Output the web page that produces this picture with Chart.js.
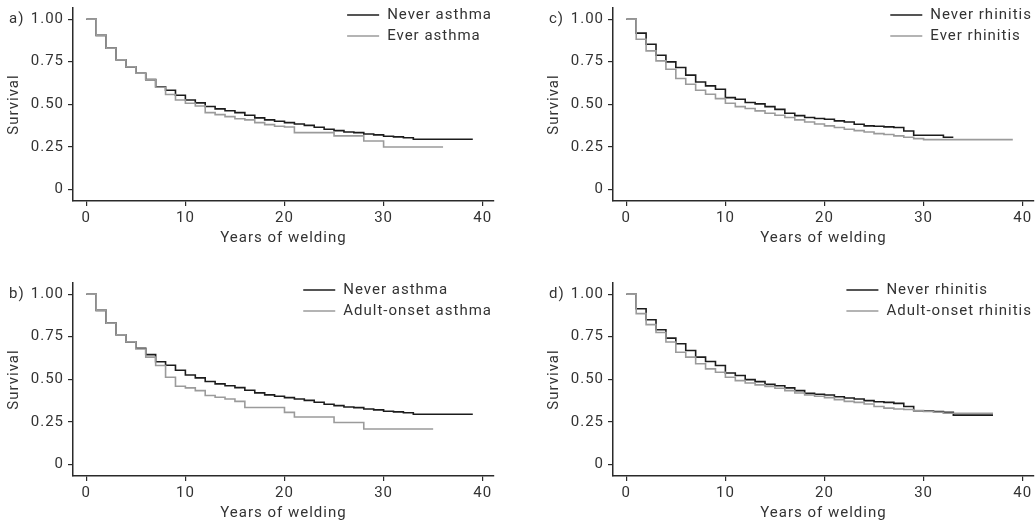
<!DOCTYPE html>
<html>
<head>
<meta charset="utf-8">
<script src="https://cdn.jsdelivr.net/npm/chart.js@4.4.1/dist/chart.umd.min.js"></script>
<style>
  html, body { margin: 0; padding: 0; background: #fff; }
  #wrap { position: relative; width: 1036px; height: 528px; overflow: hidden; }
  canvas { position: absolute; }
</style>
</head>
<body>
<div id="wrap">
  <canvas id="panel-a" width="518" height="252" style="left:0px;top:0px"></canvas>
  <canvas id="panel-b" width="518" height="252" style="left:0px;top:275px"></canvas>
  <canvas id="panel-c" width="518" height="252" style="left:540px;top:0px"></canvas>
  <canvas id="panel-d" width="518" height="252" style="left:540px;top:275px"></canvas>
</div>
<script>
// axes
const xTicks = [0, 10, 20, 30, 40];
const yTicks = [0, 0.25, 0.5, 0.75, 1];
const yTickLabels = ['0', '0.25', '0.50', '0.75', '1.00'];
const xTitle = 'Years of welding';
const yTitle = 'Survival';

// a) + b) never asthma
const neverAsthmaYears = [0, 1, 2, 3, 4, 5, 6, 7, 8, 9, 10, 11, 12, 13, 14, 15, 16, 17, 18, 19, 20,
  21, 22, 23, 24, 25, 26, 27, 28, 29, 30, 31, 32, 33, 39];
const neverAsthmaSurv = [1.000, 0.905, 0.830, 0.762, 0.720, 0.682, 0.645, 0.603, 0.582, 0.553, 0.525,
  0.508, 0.487, 0.473, 0.462, 0.451, 0.435, 0.420, 0.408, 0.400, 0.392,
  0.384, 0.376, 0.365, 0.353, 0.345, 0.337, 0.333, 0.325, 0.320, 0.312, 0.308, 0.303, 0.294, 0.294];

// a) ever asthma
const everAsthmaYears = [0, 1, 2, 3, 4, 5, 6, 7, 8, 9, 10, 11, 12, 13, 14, 15, 16, 17, 18, 19, 20,
  21, 25, 28, 30, 36];
const everAsthmaSurv = [1.000, 0.905, 0.830, 0.762, 0.720, 0.682, 0.645, 0.600, 0.557, 0.525, 0.506,
  0.490, 0.451, 0.439, 0.427, 0.415, 0.408, 0.392, 0.380, 0.371, 0.366,
  0.333, 0.314, 0.284, 0.249, 0.249];

// b) adult-onset asthma
const adultAsthmaYears = [0, 1, 2, 3, 4, 5, 6, 7, 8, 9, 10, 11, 12, 13, 14, 15, 16, 20, 21, 25, 28, 35];
const adultAsthmaSurv = [1.000, 0.905, 0.830, 0.762, 0.720, 0.678, 0.630, 0.581, 0.512, 0.459, 0.449,
  0.433, 0.404, 0.394, 0.384, 0.370, 0.334, 0.305, 0.278, 0.246, 0.207, 0.207];

// c) never / ever rhinitis
const neverRhinitisCYears = [0, 1, 2, 3, 4, 5, 6, 7, 8, 9, 10, 11, 12, 13, 14, 15, 16, 17, 18, 19, 20,
  21, 22, 23, 24, 25, 26, 27, 28, 29, 30, 31, 32, 33];
const neverRhinitisCSurv = [1.000, 0.918, 0.853, 0.788, 0.749, 0.716, 0.671, 0.631, 0.608, 0.588, 0.539,
  0.529, 0.510, 0.502, 0.486, 0.470, 0.447, 0.433, 0.422, 0.416, 0.412,
  0.402, 0.396, 0.382, 0.373, 0.371, 0.367, 0.363, 0.343, 0.318, 0.318, 0.318, 0.306, 0.306];

const everRhinitisYears = [0, 1, 2, 3, 4, 5, 6, 7, 8, 9, 10, 11, 12, 13, 14, 15, 16, 17, 18, 19, 20,
  21, 22, 23, 24, 25, 26, 27, 28, 29, 30, 39];
const everRhinitisSurv = [1.000, 0.882, 0.814, 0.755, 0.706, 0.651, 0.618, 0.582, 0.559, 0.533, 0.506,
  0.486, 0.475, 0.461, 0.447, 0.435, 0.422, 0.408, 0.396, 0.384, 0.373,
  0.363, 0.353, 0.345, 0.337, 0.327, 0.322, 0.314, 0.306, 0.298, 0.292, 0.292];

// d) never / adult-onset rhinitis
const neverRhinitisDYears = [0, 1, 2, 3, 4, 5, 6, 7, 8, 9, 10, 11, 12, 13, 14, 15, 16, 17, 18, 19, 20,
  21, 22, 23, 24, 25, 26, 27, 28, 29, 30, 31, 32, 33, 37];
const neverRhinitisDSurv = [1.000, 0.915, 0.850, 0.791, 0.742, 0.709, 0.669, 0.630, 0.604, 0.581, 0.537,
  0.522, 0.498, 0.486, 0.470, 0.462, 0.449, 0.433, 0.417, 0.412, 0.407,
  0.397, 0.390, 0.384, 0.374, 0.368, 0.364, 0.358, 0.340, 0.315, 0.313, 0.310, 0.305, 0.289, 0.289];

const adultRhinitisYears = [0, 1, 2, 3, 4, 5, 6, 7, 8, 9, 10, 11, 12, 13, 14, 15, 16, 17, 18, 19, 20,
  21, 22, 23, 24, 25, 26, 27, 28, 29, 30, 31, 32, 37];
const adultRhinitisSurv = [1.000, 0.886, 0.821, 0.775, 0.719, 0.659, 0.630, 0.591, 0.561, 0.541, 0.512,
  0.492, 0.478, 0.467, 0.457, 0.447, 0.433, 0.419, 0.407, 0.400, 0.392,
  0.380, 0.370, 0.364, 0.354, 0.340, 0.330, 0.325, 0.322, 0.316, 0.310, 0.306, 0.300, 0.300];

const panels = [
  { id: 'panel-a', tag: 'a)',
    black: ['Never asthma', neverAsthmaYears, neverAsthmaSurv],
    grey: ['Ever asthma', everAsthmaYears, everAsthmaSurv] },
  { id: 'panel-b', tag: 'b)',
    black: ['Never asthma', neverAsthmaYears, neverAsthmaSurv],
    grey: ['Adult-onset asthma', adultAsthmaYears, adultAsthmaSurv] },
  { id: 'panel-c', tag: 'c)',
    black: ['Never rhinitis', neverRhinitisCYears, neverRhinitisCSurv],
    grey: ['Ever rhinitis', everRhinitisYears, everRhinitisSurv] },
  { id: 'panel-d', tag: 'd)',
    black: ['Never rhinitis', neverRhinitisDYears, neverRhinitisDSurv],
    grey: ['Adult-onset rhinitis', adultRhinitisYears, adultRhinitisSurv] }
];

const BLACK = '#1c1c1c';
const GREY = '#9b9b9b';
const AXIS = '#2a2a2a';
const TEXT = '#333';
const FONT = { family: 'Roboto', size: 15 };

Chart.defaults.font.family = FONT.family;
Chart.defaults.font.size = FONT.size;
Chart.defaults.color = TEXT;

function toPoints(years, surv) {
    return years.map((x, i) => ({ x: x, y: surv[i] }));
}

// panel tag + legend drawn inside the plot, like the original
const decorations = {
    id: 'decorations',
    beforeDraw(chart) {
        chart.ctx.letterSpacing = '1px';
    },
    afterDraw(chart, args, opts) {
        const ctx = chart.ctx;
        const area = chart.chartArea;
        ctx.save();
        ctx.letterSpacing = '1px';
        ctx.font = FONT.size + 'px ' + FONT.family;
        ctx.fillStyle = TEXT;
        ctx.textBaseline = 'middle';
        ctx.textAlign = 'left';
        ctx.fillText(opts.tag, 9, chart.scales.y.getPixelForValue(1));

        const entries = chart.data.datasets;
        const maxW = Math.max(...entries.map(d => ctx.measureText(d.label).width));
        const textX = area.right - 2 - maxW;
        entries.forEach((d, i) => {
            const y = area.top + 7 + i * 21;
            ctx.strokeStyle = d.borderColor;
            ctx.lineWidth = 1.6;
            ctx.beginPath();
            ctx.moveTo(textX - 40, y);
            ctx.lineTo(textX - 8, y);
            ctx.stroke();
            ctx.fillStyle = TEXT;
            ctx.fillText(d.label, textX, y);
        });
        ctx.restore();
    }
};

panels.forEach(p => {
    const ctx = document.getElementById(p.id).getContext('2d');
    new Chart(ctx, {
        type: 'line',
        data: {
            datasets: [
                {
                    label: p.black[0],
                    data: toPoints(p.black[1], p.black[2]),
                    borderColor: BLACK,
                    borderWidth: 1.6,
                    stepped: true,
                    pointRadius: 0,
                    fill: false,
                    order: 2
                },
                {
                    label: p.grey[0],
                    data: toPoints(p.grey[1], p.grey[2]),
                    borderColor: GREY,
                    borderWidth: 1.6,
                    stepped: true,
                    pointRadius: 0,
                    fill: false,
                    order: 1
                }
            ]
        },
        options: {
            responsive: false,
            animation: false,
            devicePixelRatio: 1,
            layout: { padding: { left: 0, top: 8, right: 24, bottom: 0 } },
            plugins: {
                legend: { display: false },
                tooltip: { enabled: false },
                decorations: { tag: p.tag }
            },
            scales: {
                x: {
                    type: 'linear',
                    min: -1.34,
                    max: 41.14,
                    afterBuildTicks: s => { s.ticks = xTicks.map(v => ({ value: v })); },
                    afterFit: s => {
                        s.height = 51;
                        s.paddingLeft = 0; s.paddingRight = 0;
                    },
                    ticks: { padding: 3, color: TEXT, maxRotation: 0 },
                    grid: { drawOnChartArea: false, drawTicks: true, tickLength: 5, color: AXIS, lineWidth: 1.2 },
                    border: { display: true, color: AXIS, width: 1.5 },
                    title: { display: true, text: xTitle, color: TEXT, padding: { top: 0, bottom: 5 } }
                },
                y: {
                    type: 'linear',
                    min: -0.069,
                    max: 1.066,
                    afterBuildTicks: s => { s.ticks = yTicks.map(v => ({ value: v })); },
                    afterFit: s => {
                        s.width = 73;
                        s.paddingTop = 0; s.paddingBottom = 0;
                    },
                    ticks: { padding: 4, color: TEXT, callback: (v, i) => yTickLabels[i] },
                    grid: { drawOnChartArea: false, drawTicks: true, tickLength: 5, color: AXIS, lineWidth: 1.2 },
                    border: { display: true, color: AXIS, width: 1.5 },
                    title: { display: true, text: yTitle, color: TEXT, padding: { top: 5, bottom: 0 } }
                }
            }
        },
        plugins: [decorations]
    });
});
</script>
</body>
</html>
